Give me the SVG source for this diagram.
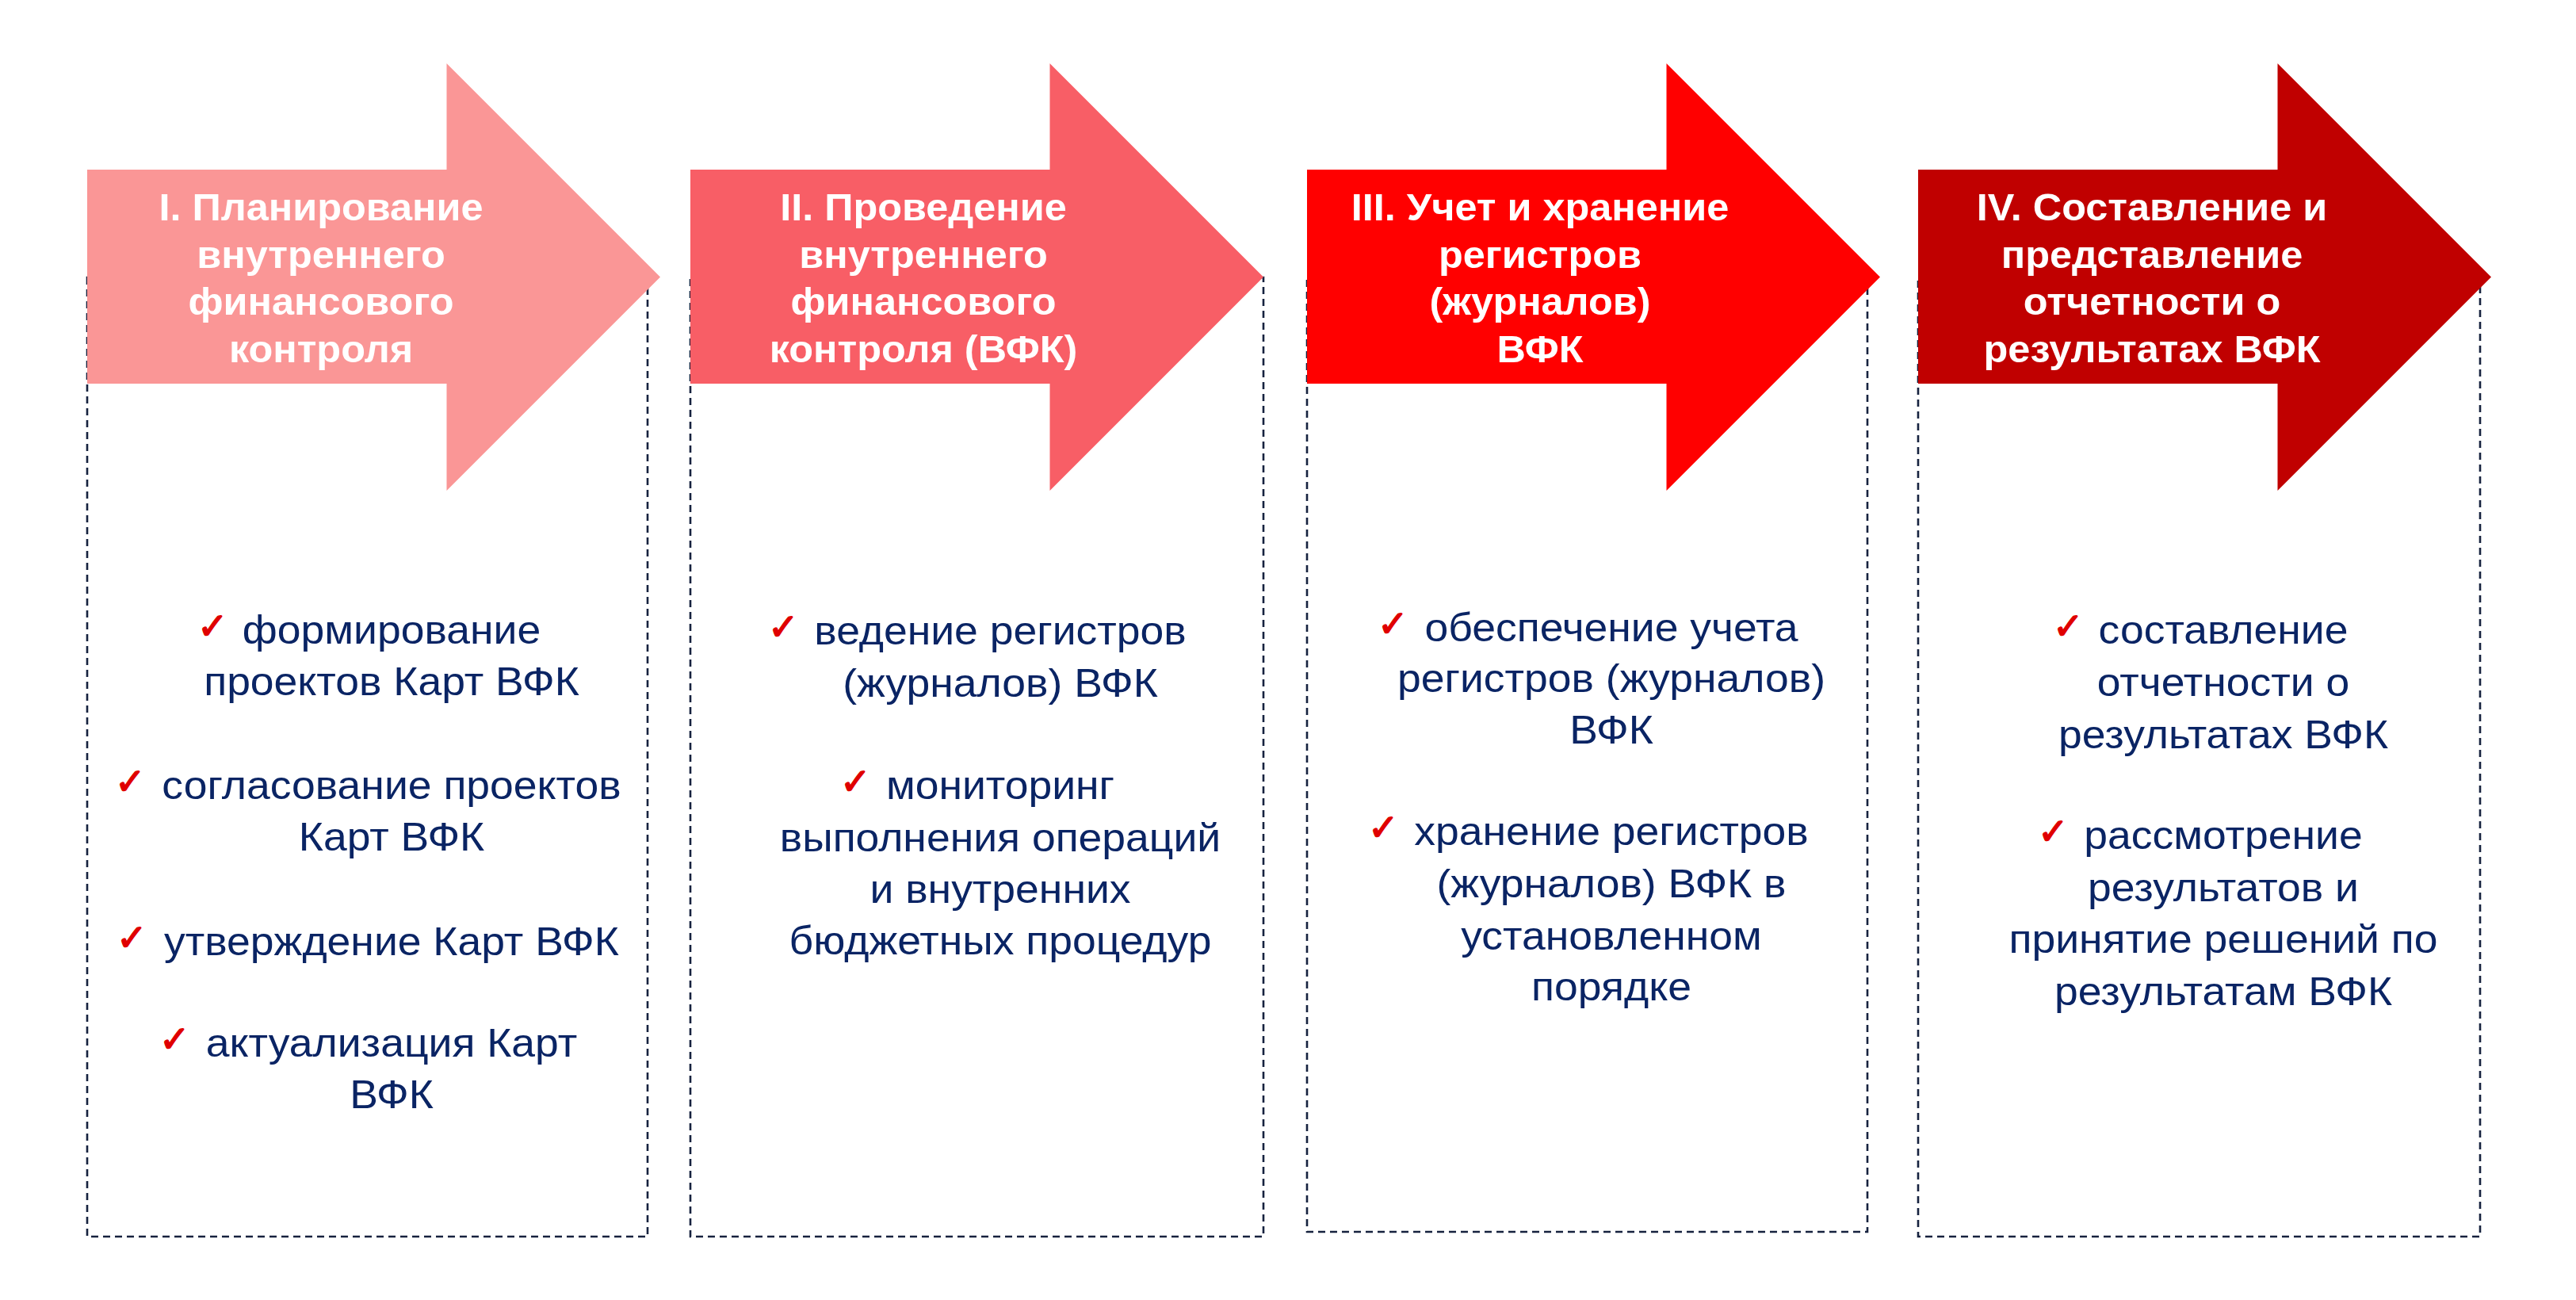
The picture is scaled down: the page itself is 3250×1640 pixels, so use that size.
<svg xmlns="http://www.w3.org/2000/svg" width="3250" height="1640" viewBox="0 0 3250 1640">
<style>
.box{fill:none;stroke:#16223F;stroke-width:2.6;stroke-dasharray:9 6}
.h{font-family:"Liberation Sans",Arial,sans-serif;font-weight:bold;font-size:48px;fill:#FFFFFF;text-anchor:middle}
.b{font-family:"Liberation Sans",Arial,sans-serif;font-size:50px;fill:#0A2464;text-anchor:middle}
.ck{font-family:"DejaVu Sans",sans-serif;font-size:46px;fill:#E00000;stroke:#E00000;stroke-width:1.6}
</style>
<defs>
<path id="arrow" d="M0 214 H453.5 V80 L723 349.5 L453.5 619 V484 H0 Z"/>
</defs>
<rect width="3250" height="1640" fill="#FFFFFF"/>

<g id="step1">
<rect class="box" x="110" y="350" width="707" height="1210"/>
<use href="#arrow" x="110" fill="#FA9696"/>
<g transform="translate(405 0) scale(1.05 1)">
<text class="h" y="278">I. Планирование</text>
<text class="h" y="338">внутреннего</text>
<text class="h" y="397">финансового</text>
<text class="h" y="457">контроля</text>
</g>
<g transform="translate(494 0) scale(1.07 1)">
<text class="b" y="812">формирование</text>
<text class="b" y="877">проектов Карт ВФК</text>
<text class="b" y="1008">согласование проектов</text>
<text class="b" y="1073">Карт ВФК</text>
<text class="b" y="1205">утверждение Карт ВФК</text>
<text class="b" y="1333">актуализация Карт</text>
<text class="b" y="1398">ВФК</text>
</g>
<text class="ck" x="249" y="806">✓</text>
<text class="ck" x="145" y="1002">✓</text>
<text class="ck" x="147" y="1199">✓</text>
<text class="ck" x="201" y="1327">✓</text>
</g>

<g id="step2">
<rect class="box" x="871" y="350" width="723" height="1210"/>
<use href="#arrow" x="871" fill="#F85E66"/>
<g transform="translate(1165 0) scale(1.05 1)">
<text class="h" y="278">II. Проведение</text>
<text class="h" y="338">внутреннего</text>
<text class="h" y="397">финансового</text>
<text class="h" y="457">контроля (ВФК)</text>
</g>
<g transform="translate(1262 0) scale(1.07 1)">
<text class="b" y="813">ведение регистров</text>
<text class="b" y="879">(журналов) ВФК</text>
<text class="b" y="1008">мониторинг</text>
<text class="b" y="1074">выполнения операций</text>
<text class="b" y="1139">и внутренних</text>
<text class="b" y="1204">бюджетных процедур</text>
</g>
<text class="ck" x="969" y="807">✓</text>
<text class="ck" x="1060" y="1002">✓</text>
</g>

<g id="step3">
<rect class="box" x="1649" y="350" width="707" height="1204"/>
<use href="#arrow" x="1649" fill="#FF0000"/>
<g transform="translate(1943 0) scale(1.05 1)">
<text class="h" y="278">III. Учет и хранение</text>
<text class="h" y="338">регистров</text>
<text class="h" y="397">(журналов)</text>
<text class="h" y="457">ВФК</text>
</g>
<g transform="translate(2033 0) scale(1.07 1)">
<text class="b" y="809">обеспечение учета</text>
<text class="b" y="873">регистров (журналов)</text>
<text class="b" y="938">ВФК</text>
<text class="b" y="1066">хранение регистров</text>
<text class="b" y="1132">(журналов) ВФК в</text>
<text class="b" y="1198">установленном</text>
<text class="b" y="1262">порядке</text>
</g>
<text class="ck" x="1738" y="803">✓</text>
<text class="ck" x="1726" y="1060">✓</text>
</g>

<g id="step4">
<rect class="box" x="2420" y="350" width="709" height="1210"/>
<use href="#arrow" x="2420" fill="#C00000"/>
<g transform="translate(2715 0) scale(1.05 1)">
<text class="h" y="278">IV. Составление и</text>
<text class="h" y="338">представление</text>
<text class="h" y="397">отчетности о</text>
<text class="h" y="457">результатах ВФК</text>
</g>
<g transform="translate(2805 0) scale(1.07 1)">
<text class="b" y="812">составление</text>
<text class="b" y="878">отчетности о</text>
<text class="b" y="944">результатах ВФК</text>
<text class="b" y="1071">рассмотрение</text>
<text class="b" y="1137">результатов и</text>
<text class="b" y="1202">принятие решений по</text>
<text class="b" y="1268">результатам ВФК</text>
</g>
<text class="ck" x="2590" y="806">✓</text>
<text class="ck" x="2571" y="1065">✓</text>
</g>

<g id="connectors"/>
</svg>
